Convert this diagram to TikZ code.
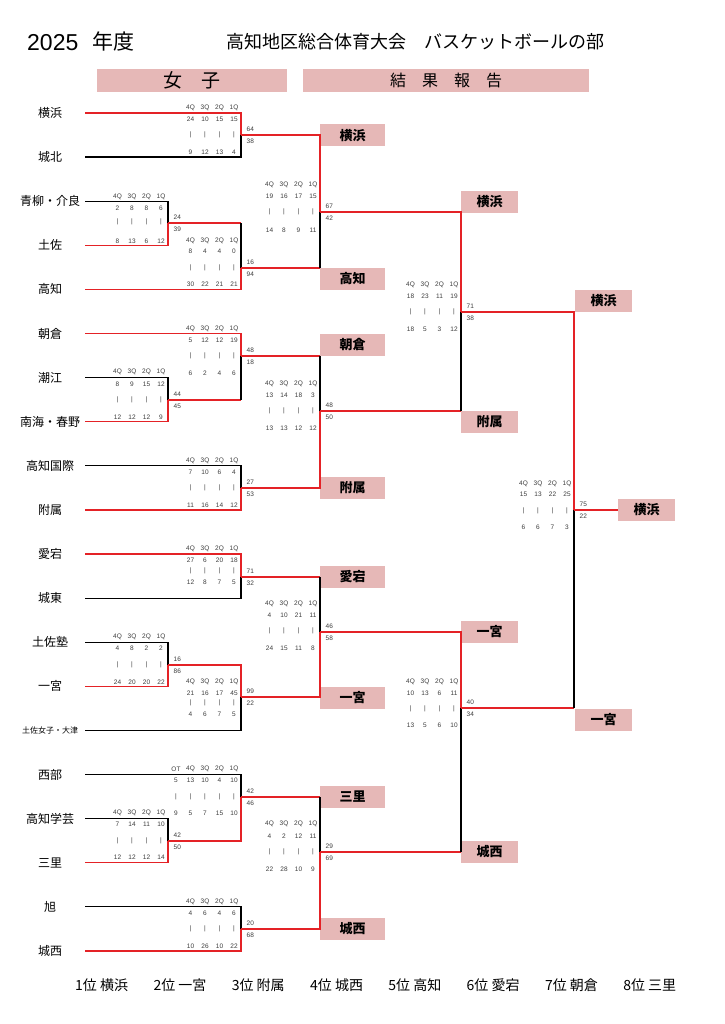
\documentclass[tikz,border=0pt]{standalone}
\usepackage{fontspec}
\setmainfont{Liberation Sans}
\newfontfamily\jp{Noto Sans CJK JP}
\usetikzlibrary{positioning}
\definecolor{boxpink}{RGB}{230,184,183}
\definecolor{linered}{RGB}{228,34,38}
\definecolor{numgray}{RGB}{60,60,60}
\tikzstyle{team} = [inner sep=0, font=\jp\fontsize{12}{12}\selectfont]
\tikzstyle{teamsmall} = [inner sep=0, font=\jp\fontsize{8}{8}\selectfont]
\tikzstyle{winbox} = [rectangle, fill=boxpink, minimum width=65pt, minimum height=22pt, inner sep=0, font=\jp\bfseries\fontsize{13}{13}\selectfont]
\tikzstyle{headbar} = [rectangle, fill=boxpink, minimum height=23pt, inner sep=0]
\tikzstyle{qnum} = [inner sep=0, text=numgray, font=\fontsize{6.5}{7}\selectfont]
\tikzstyle{score} = [inner sep=0.5pt, text=numgray, font=\fontsize{6.5}{7}\selectfont]
\tikzstyle{rank} = [anchor=west, inner sep=0, font=\jp\fontsize{14}{14}\selectfont]
\tikzstyle{winline} = [draw=linered, line width=1.5pt]
\tikzstyle{loseline} = [draw=black, line width=1.2pt]

% quarter scores: name, x of bracket, y of head/top/bars/bottom, list Q/top/bottom, final scores
\newcommand{\quarters}[9]{%
  \foreach \q/\t/\b [count=\i] in {#7} {
    \pgfmathsetmacro{\qx}{#2-7-14.5*(\i-1)}
    \node[qnum] (#1h\i) at (\qx,#3) {\q};
    \node[qnum] (#1t\i) at (\qx,#4) {\t};
    \node[qnum] (#1m\i) at (\qx,#5) {|};
    \node[qnum] (#1b\i) at (\qx,#6) {\b};
  }
  \node[score, above right=3pt and 5pt of #1] (#1u) {#8};
  \node[score, below right=3pt and 5pt of #1] (#1d) {#9};
}

\begin{document}
\begin{tikzpicture}[x=1pt, y=-1pt]
  \useasboundingbox (0,0) rectangle (724,1024);

  % heading
  \node[anchor=west, inner sep=0, font=\fontsize{23}{23}\selectfont] (yr) at (27,43) {2025};
  \node[anchor=west, inner sep=0, font=\jp\fontsize{21}{21}\selectfont] (nendo) at (92,42) {年度};
  \node[inner sep=0, font=\jp\fontsize{18}{18}\selectfont] (title) at (415.5,42) {高知地区総合体育大会　バスケットボールの部};
  \node[headbar, minimum width=190pt, font=\jp\fontsize{19}{19}\selectfont] (joshi) at (192,80.5) {女　子};
  \node[headbar, minimum width=286pt, font=\jp\fontsize{16}{16}\selectfont] (kekka) at (446,80.5) {結　果　報　告};

  % teams and the start of their lines
  \foreach \nm/\st [count=\k] in {横浜/team, 城北/team, 青柳・介良/team, 土佐/team, 高知/team,
      朝倉/team, 潮江/team, 南海・春野/team, 高知国際/team, 附属/team,
      愛宕/team, 城東/team, 土佐塾/team, 一宮/team, 土佐女子・大津/teamsmall,
      西部/team, 高知学芸/team, 三里/team, 旭/team, 城西/team} {
    \node[\st] (t\k) at (50,{113+44.1*(\k-1)}) {\nm};
    \coordinate (l\k) at (85,{113+44.1*(\k-1)});
  }

  % bracket points of the games
  \coordinate (g1) at (241,135);
  \coordinate (g2) at (168,223);
  \coordinate (g3) at (241,268);
  \coordinate (g4) at (320,212);
  \coordinate (g5) at (168,400);
  \coordinate (g6) at (241,356);
  \coordinate (g7) at (241,488);
  \coordinate (g8) at (320,411);
  \coordinate (g9) at (461,312);
  \coordinate (g10) at (241,577);
  \coordinate (g11) at (168,665);
  \coordinate (g12) at (241,697);
  \coordinate (g13) at (320,632);
  \coordinate (g14) at (168,841);
  \coordinate (g15) at (241,797);
  \coordinate (g16) at (241,929);
  \coordinate (g17) at (320,852);
  \coordinate (g18) at (461,708);
  \coordinate (g19) at (574,510);

  % winners
  \node[winbox] (w1) at (352.5,135.5) {横浜};
  \node[winbox] (w2) at (352.5,279) {高知};
  \node[winbox] (w3) at (352.5,345) {朝倉};
  \node[winbox] (w4) at (352.5,488) {附属};
  \node[winbox] (w5) at (352.5,577) {愛宕};
  \node[winbox] (w6) at (352.5,697.5) {一宮};
  \node[winbox] (w7) at (352.5,797) {三里};
  \node[winbox] (w8) at (352.5,929) {城西};
  \node[winbox, minimum width=57pt] (w9) at (489.5,202) {横浜};
  \node[winbox, minimum width=57pt] (w10) at (489.5,422) {附属};
  \node[winbox, minimum width=57pt] (w11) at (489.5,631.5) {一宮};
  \node[winbox, minimum width=57pt] (w12) at (489.5,851.5) {城西};
  \node[winbox, minimum width=57pt] (w13) at (603.5,300.5) {横浜};
  \node[winbox, minimum width=57pt] (w14) at (603.5,719.5) {一宮};
  \node[winbox, minimum width=57pt] (final) at (646.5,510) {横浜};

  % first round losers
  \draw[loseline] (l2) -| (g1);
  \draw[loseline] (l3) -| (g2);
  \draw[loseline] (l7) -| (g5);
  \draw[loseline] (l9) -| (g7);
  \draw[loseline] (l12) -| (g10);
  \draw[loseline] (l13) -| (g11);
  \draw[loseline] (l15) -| (g12);
  \draw[loseline] (l17) -| (g14);
  \draw[loseline] (l16) -| (g15);
  \draw[loseline] (l19) -| (g16);

  % earlier winners that lost here: red way out, black way in
  \foreach \a/\b in {g2/g3, g3/g4, g5/g6, g6/g8, g8/g9, g10/g13, g15/g17, g17/g18, g18/g19} {
    \draw[winline] (\a) -- (\a -| \b);
    \draw[loseline] (\a -| \b) -- (\b);
  }

  % lines of the winners
  \draw[winline] (l1) -| (g1);
  \draw[winline] (l4) -| (g2);
  \draw[winline] (l5) -| (g3);
  \draw[winline] (g1) -| (g4);
  \draw[winline] (l8) -| (g5);
  \draw[winline] (l6) -| (g6);
  \draw[winline] (l10) -| (g7);
  \draw[winline] (g7) -| (g8);
  \draw[winline] (g4) -| (g9);
  \draw[winline] (l11) -| (g10);
  \draw[winline] (l14) -| (g11);
  \draw[winline] (g11) -| (g12);
  \draw[winline] (g12) -| (g13);
  \draw[winline] (l18) -| (g14);
  \draw[winline] (g14) -| (g15);
  \draw[winline] (l20) -| (g16);
  \draw[winline] (g16) -| (g17);
  \draw[winline] (g13) -| (g18);
  \draw[winline] (g9) -| (g19);
  \draw[winline] (g19) -- (final);

  % scores by quarter
  \quarters{g1}{241}{108}{119}{135}{152}{1Q/15/4,2Q/15/13,3Q/10/12,4Q/24/9}{64}{38}
  \quarters{g2}{168}{197}{208}{222}{241}{1Q/6/12,2Q/8/6,3Q/8/13,4Q/2/8}{24}{39}
  \quarters{g3}{241}{241}{251}{268}{284}{1Q/0/21,2Q/4/21,3Q/4/22,4Q/8/30}{16}{94}
  \quarters{g4}{320}{185}{196}{212}{230}{1Q/15/11,2Q/17/9,3Q/16/8,4Q/19/14}{67}{42}
  \quarters{g5}{168}{372}{384}{400}{417}{1Q/12/9,2Q/15/12,3Q/9/12,4Q/8/12}{44}{45}
  \quarters{g6}{241}{329}{340}{356}{373}{1Q/19/6,2Q/12/4,3Q/12/2,4Q/5/6}{48}{18}
  \quarters{g7}{241}{461}{472}{488}{505}{1Q/4/12,2Q/6/14,3Q/10/16,4Q/7/11}{27}{53}
  \quarters{g8}{320}{384}{395}{411}{428}{1Q/3/12,2Q/18/12,3Q/14/13,4Q/13/13}{48}{50}
  \quarters{g9}{461}{285}{296}{312}{329}{1Q/19/12,2Q/11/3,3Q/23/5,4Q/18/18}{71}{38}
  \quarters{g10}{241}{549}{560}{571}{582}{1Q/18/5,2Q/20/7,3Q/6/8,4Q/27/12}{71}{32}
  \quarters{g11}{168}{637}{648}{665}{682}{1Q/2/22,2Q/2/20,3Q/8/20,4Q/4/24}{16}{86}
  \quarters{g12}{241}{682}{693}{703}{714}{1Q/45/5,2Q/17/7,3Q/16/6,4Q/21/4}{99}{22}
  \quarters{g13}{320}{604}{615}{631}{648}{1Q/11/8,2Q/21/11,3Q/10/15,4Q/4/24}{46}{58}
  \quarters{g14}{168}{813}{824}{841}{857}{1Q/10/14,2Q/11/12,3Q/14/12,4Q/7/12}{42}{50}
  \quarters{g15}{241}{769}{780}{797}{813}{1Q/10/10,2Q/4/15,3Q/10/7,4Q/13/5,OT/5/9}{42}{46}
  \quarters{g16}{241}{902}{913}{929}{946}{1Q/6/22,2Q/4/10,3Q/6/26,4Q/4/10}{20}{68}
  \quarters{g17}{320}{824}{836}{852}{869}{1Q/11/9,2Q/12/10,3Q/2/28,4Q/4/22}{29}{69}
  \quarters{g18}{461}{682}{693}{709}{725}{1Q/11/10,2Q/6/6,3Q/13/5,4Q/10/13}{40}{34}
  \quarters{g19}{574}{484}{494}{511}{527}{1Q/25/3,2Q/22/7,3Q/13/6,4Q/15/6}{75}{22}

  % final standings
  \foreach \r [count=\i] in {1位 横浜, 2位 一宮, 3位 附属, 4位 城西, 5位 高知, 6位 愛宕, 7位 朝倉, 8位 三里}
    \node[rank] (r\i) at ({75+78.3*(\i-1)},985) {\r};

\end{tikzpicture}
\end{document}
